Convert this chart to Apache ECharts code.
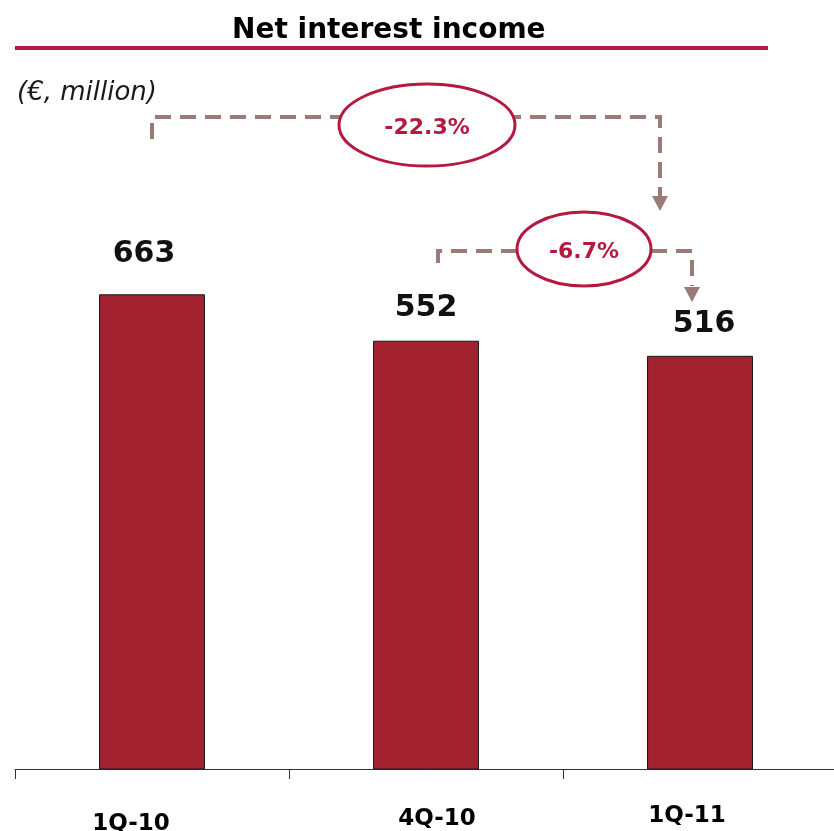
<!DOCTYPE html>
<html>
<head>
<meta charset="utf-8">
<script src="https://cdn.jsdelivr.net/npm/echarts@6/dist/echarts.min.js"></script>
<style>
  html, body { margin: 0; padding: 0; background: #ffffff; }
  #chart { width: 834px; height: 831px; }
</style>
</head>
<body>
<div id="chart"></div>
<script>
// Quarterly net interest income, € million
const categories = ['1Q-10', '4Q-10', '1Q-11'];
const values = [663, 552, 516];
// Change annotations: 1Q-11 vs 1Q-10 and 1Q-11 vs 4Q-10
const changeLabels = ['-22.3%', '-6.7%'];

const FONT = '"DejaVu Sans", Verdana, sans-serif';
const BAR = '#A2222F';
const ACCENT = '#B5193F';
const CONNECTOR = '#9B7B78';

// Value scale: the column baseline sits at the bottom of the value axis
const Y_MIN = -470;
const Y_MAX = 1200;

// small per-label nudges (style only)
const valueLabelOffsets = [[-8, -9], [0, -1], [4, 0]];
const catLabelPadding = [[8, 42, 0, 0], [3, 0, 0, 22], [0, 26, 0, 0]];

const chart = echarts.init(document.getElementById('chart'), null, { renderer: 'canvas' });

// Columns are drawn from the axis floor up to each value
function renderColumn(params, api) {
  const idx = api.value(0);
  const val = api.value(1);
  const top = api.coord([idx, val]);
  const base = api.coord([idx, Y_MIN]);
  const w = api.size([1, 0])[0] * 0.383;
  const off = valueLabelOffsets[params.dataIndex];
  return {
    type: 'group',
    children: [
      {
        type: 'rect',
        shape: { x: top[0] - w / 2, y: top[1], width: w, height: base[1] - top[1] },
        style: { fill: BAR, stroke: '#1a1a1a', lineWidth: 1 }
      },
      {
        type: 'text',
        x: top[0] + off[0],
        y: top[1] - 17 + off[1],
        style: {
          text: String(val),
          align: 'center',
          verticalAlign: 'bottom',
          font: 'bold 30px ' + FONT,
          fill: '#111'
        }
      }
    ]
  };
}

chart.setOption({
  animation: false,
  backgroundColor: '#ffffff',
  title: {
    text: 'Net interest income',
    left: 227,
    top: 12,
    textStyle: { fontFamily: FONT, fontWeight: 'bold', fontSize: 28, color: '#000' }
  },
  grid: { left: 15, top: 70, width: 822, height: 699, outerBoundsMode: 'none' },
  xAxis: {
    type: 'category',
    data: categories.map((c, i) => ({
      value: c,
      textStyle: { padding: catLabelPadding[i] }
    })),
    axisLine: { onZero: false, lineStyle: { color: '#333', width: 1 } },
    axisTick: { show: true, length: 10, lineStyle: { color: '#333', width: 1 } },
    axisLabel: {
      margin: 36,
      fontFamily: FONT,
      fontWeight: 'bold',
      fontSize: 23,
      color: '#000'
    }
  },
  yAxis: {
    type: 'value',
    show: false,
    min: Y_MIN,
    max: Y_MAX,
    splitLine: { show: false }
  },
  series: [{
    type: 'custom',
    renderItem: renderColumn,
    encode: { x: 0, y: 1 },
    data: values.map((v, i) => [i, v])
  }]
});

// Annotation layer: title rule, unit note and change connectors
const cx = categories.map(c => chart.convertToPixel({ xAxisIndex: 0 }, c));

function dashed(points) {
  return {
    type: 'polyline',
    shape: { points: points },
    style: { stroke: CONNECTOR, lineWidth: 4, lineDash: [16, 9], fill: null }
  };
}
function arrowDown(x, yTop, yTip) {
  return {
    type: 'polygon',
    shape: { points: [[x - 8, yTop], [x + 8, yTop], [x, yTip]] },
    style: { fill: CONNECTOR }
  };
}
function bubble(x, y, rx, ry, text) {
  return [
    {
      type: 'ellipse',
      shape: { cx: x, cy: y, rx: rx, ry: ry },
      style: { fill: '#ffffff', stroke: ACCENT, lineWidth: 3 }
    },
    {
      type: 'text',
      x: x, y: y + 3,
      style: {
        text: text, align: 'center', verticalAlign: 'middle',
        font: 'bold 22px ' + FONT, fill: ACCENT
      }
    }
  ];
}

const upperL = cx[0], upperR = cx[2] - 40;
const lowerL = cx[1] + 12, lowerR = cx[2] - 8;

chart.setOption({
  graphic: [
    {
      type: 'line',
      shape: { x1: 15, y1: 48, x2: 768, y2: 48 },
      style: { stroke: ACCENT, lineWidth: 4 }
    },
    {
      type: 'text',
      x: 17, y: 80,
      style: { text: '(€, million)', font: 'italic 26px ' + FONT, fill: '#1a1a1a' }
    },
    dashed([[upperL, 139], [upperL, 117], [upperR, 117], [upperR, 196]]),
    arrowDown(upperR, 196, 211),
    ...bubble((upperL + upperR) / 2 + 21, 125, 88, 41, changeLabels[0]),
    dashed([[lowerL, 263], [lowerL, 251], [lowerR, 251], [lowerR, 286]]),
    arrowDown(lowerR, 287, 302),
    ...bubble(584, 249, 67, 37, changeLabels[1])
  ]
});
</script>
</body>
</html>
